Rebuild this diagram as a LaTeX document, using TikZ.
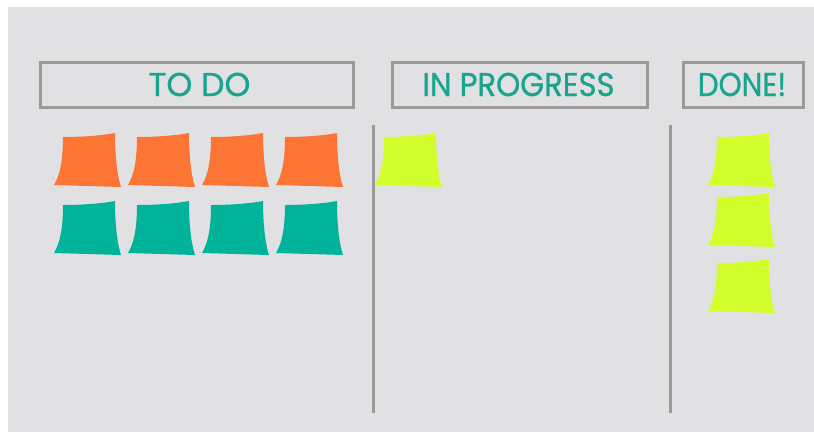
\documentclass[tikz,border=0pt]{standalone}
\usepackage{fontspec}
\setmainfont{Poppins}
\newfontfamily\headfont[FakeBold=0.8]{Poppins}
\definecolor{bg}{HTML}{E1E0E3}
\definecolor{frame}{HTML}{9A9A9A}
\definecolor{headtext}{HTML}{17A58E}
\definecolor{orangenote}{HTML}{FC7535}
\definecolor{tealnote}{HTML}{00B39A}
\definecolor{limenote}{HTML}{D2FF2C}
\tikzset{
  sticky/.pic={
    \fill[pic actions] (0,0) .. controls (6,-10) and (9,-25) .. (9,-48)
      .. controls (25,-48) and (45,-49) .. (61,-52)
      .. controls (61,-30) and (63,-10) .. (67,2) -- cycle;
  },
  headbox/.style={draw=frame, line width=3pt, inner sep=0pt, anchor=north west},
  headlabel/.style={text=headtext, font=\headfont\fontsize{33}{33}\selectfont, inner sep=0pt},
  divider/.style={draw=frame, line width=3pt},
}
\begin{document}
\begin{tikzpicture}[x=1pt,y=-1pt]
\useasboundingbox (0,0) rectangle (814,432);
\fill[white] (0,0) rectangle (814,432);
\fill[bg] (8,7) rectangle (814,432);
% header boxes
\node[headbox, minimum width=313pt, minimum height=45pt] (todobox) at (38.5,60.5) {};
\node[headbox, minimum width=255pt, minimum height=45pt] (progbox) at (390.5,60.5) {};
\node[headbox, minimum width=120pt, minimum height=45pt] (donebox) at (681.5,60.5) {};
\node[headlabel] (todo) at ([xshift=3pt]todobox.center) {\scalebox{1.0}[1]{TO DO}};
\node[headlabel] (inprog) at ([xshift=-1pt]progbox.center) {\scalebox{0.93}[1]{IN PROGRESS}};
\node[headlabel] (done) at ([xshift=-1pt]donebox.center) {\scalebox{0.89}[1]{DONE!}};
% dividers
\coordinate (d1top) at (373,125);
\coordinate (d1bot) at (373,413);
\coordinate (d2top) at (670,125);
\coordinate (d2bot) at (670,413);
\draw[divider] (d1top) -- (d1bot);
\draw[divider] (d2top) -- (d2bot);
% to do notes
\foreach \x in {54,128,202,276} {
  \pic[fill=orangenote] at (\x,185) {sticky};
  \pic[fill=tealnote] at (\x,253) {sticky};
}
% in progress
\pic[fill=limenote] at (375,185) {sticky};
% done
\pic[fill=limenote] at (708,185) {sticky};
\pic[fill=limenote] at (708,245) {sticky};
\pic[fill=limenote] at (708,311) {sticky};
\end{tikzpicture}
\end{document}
